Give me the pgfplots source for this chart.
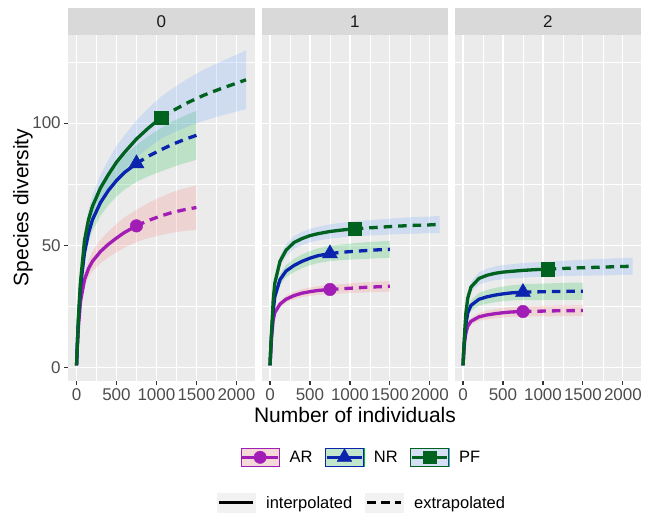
\documentclass[border=0pt]{standalone}
\usepackage{pgfplots}
\pgfplotsset{compat=1.18}
\usepackage{pgfplotstable}
\usepgfplotslibrary{fillbetween}
\usepackage{fontspec}
\setmainfont{Liberation Sans}

\definecolor{bg}{HTML}{EBEBEB}
\definecolor{stripc}{HTML}{D9D9D9}
\definecolor{stript}{HTML}{1A1A1A}
\definecolor{tickc}{HTML}{333333}
\definecolor{ticklab}{HTML}{4D4D4D}
\definecolor{keybg}{HTML}{F2F2F2}
\definecolor{lAR}{HTML}{A21DB6}
\definecolor{lNR}{HTML}{0B24AE}
\definecolor{lPF}{HTML}{00621F}
\definecolor{bAR}{HTML}{F8766D}
\definecolor{bNR}{HTML}{00BA38}
\definecolor{bPF}{HTML}{619CFF}

\newcommand\ticfont{\fontsize{17bp}{20bp}\selectfont}
\newcommand\titfont{\fontsize{21bp}{24bp}\selectfont}
\newcommand\legfont{\fontsize{16.5bp}{19bp}\selectfont}

% q = 0
\pgfplotstableread{
n S d
1 1 0
10 8 0.5
25 17 1.2
50 27 2
100 36 2.8
150 40.5 3.5
200 43.5 4
300 47.5 4.8
400 50.5 5.3
500 53 5.8
600 55.3 6.2
750 58 6.6
900 60.2 7.2
1050 62 7.8
1200 63.5 8.3
1350 64.6 8.7
1500 65.5 9.1
}\tAa
\pgfplotstableread{
n S d
1 1 0
10 9 0.6
25 20 1.4
50 33 2.3
100 47 3.3
150 55 4
200 60.5 4.6
300 67.5 5.4
400 72.5 6
500 76.5 6.5
600 79.8 7
750 83.5 7.5
900 86.5 8.2
1050 89 8.8
1200 91.3 9.3
1350 93.3 9.7
1500 95 10
}\tNa
\pgfplotstableread{
n S d
1 1 0
10 9 0.6
25 21 1.4
50 35 2.3
100 52 3.4
150 60.5 4
200 66 4.6
300 73.5 5.4
400 79 6
500 84 6.6
600 88 7
750 93.5 7.6
900 98 8.1
1060 102.3 8.6
1200 105 9.1
1400 108.5 9.8
1600 111.5 10.5
1800 114 11
2000 116.3 11.6
2120 117.7 12
}\tPa
% q = 1
\pgfplotstableread{
n S d
1 1 0
10 7 0.5
20 12.5 0.8
40 19.5 1
60 22.5 1.1
125 26 1.3
200 28 1.4
300 29.5 1.5
400 30.5 1.6
500 31.1 1.7
600 31.6 1.8
750 32 1.8
900 32.3 1.9
1050 32.6 2
1200 32.9 2.1
1350 33.1 2.1
1500 33.3 2.2
}\tAb
\pgfplotstableread{
n S d
1 1 0
10 8 0.6
20 14 1
40 23 1.5
60 29 1.8
125 36 2.2
200 39.5 2.5
300 41.8 2.7
400 43.5 2.8
500 44.8 2.9
600 45.8 3
750 46.7 3.1
900 47.2 3.2
1050 47.6 3.3
1200 47.9 3.4
1350 48.2 3.4
1500 48.4 3.5
}\tNb
\pgfplotstableread{
n S d
1 1 0
10 8 0.6
20 15 1
40 27.5 1.5
60 34.5 1.8
125 43.5 2.2
200 48 2.4
300 51.2 2.6
400 52.8 2.7
500 54 2.8
600 54.8 2.8
750 55.7 2.9
900 56.3 3
1060 56.8 3
1200 57.1 3.1
1400 57.5 3.2
1600 57.9 3.3
1800 58.2 3.4
2000 58.4 3.4
2120 58.6 3.5
}\tPb
% q = 2
\pgfplotstableread{
n S d
1 1 0
10 6.5 0.4
20 10.5 0.7
35 14 0.9
60 17 1.2
100 19 1.4
200 20.8 1.6
300 21.6 1.8
400 22.1 1.9
500 22.5 2
600 22.8 2
750 23 2.1
900 23.1 2.1
1050 23.2 2.2
1200 23.3 2.2
1350 23.35 2.2
1500 23.4 2.2
}\tAc
\pgfplotstableread{
n S d
1 1 0
10 7 0.5
20 12 0.9
35 17.5 1.3
60 22.5 1.8
100 25.5 2.2
200 28 2.6
300 29 2.8
400 29.7 2.9
500 30.2 3
600 30.6 3.1
750 30.9 3.2
900 31 3.3
1050 31.1 3.4
1200 31.2 3.4
1350 31.25 3.5
1500 31.3 3.5
}\tNc
\pgfplotstableread{
n S d
1 1 0
10 7.5 0.5
20 14 1
35 22 1.4
60 28.5 1.8
100 33 2.2
200 36.5 2.5
300 37.8 2.7
400 38.6 2.8
500 39.1 2.9
600 39.4 2.9
750 39.8 3
900 40.1 3
1060 40.3 3
1200 40.5 3.1
1400 40.8 3.2
1600 41 3.3
1800 41.2 3.4
2000 41.4 3.4
2120 41.5 3.5
}\tPc

\pgfplotsset{
  panel/.style={
    scale only axis, width=186.5bp, height=346bp, anchor=south west,
    xmin=-106, xmax=2226, ymin=-5.4, ymax=136,
    axis background/.style={fill=bg},
    axis line style={draw=none},
    xtick={0,500,1000,1500,2000}, xticklabels={0,500,1000,1500,2000},
    minor xtick={250,750,1250,1750},
    ytick={0,50,100}, yticklabels={0,50,100},
    minor ytick={25,75,125},
    grid=both,
    major grid style={white, line width=1.1bp},
    minor grid style={white, line width=0.55bp},
    tick align=outside, tick pos=left,
    major tick length=3.7bp, minor tick length=0pt,
    major tick style={tickc, line width=1.1bp},
    ticklabel style={font=\ticfont, text=ticklab, inner sep=0pt},
    xticklabel style={yshift=-3.6bp},
    yticklabel style={xshift=-3.4bp},
    clip mode=individual,
  },
  inner panel/.style={panel, yticklabels={}, ytick style={draw=none}},
  keyband/.style n args={4}{legend image code/.code={
     \fill[keybg] (0bp,-9.25bp) rectangle (38.5bp,9.25bp);
     \fill[#1, fill opacity=0.2] (0bp,-9.25bp) rectangle (38.5bp,9.25bp);
     \draw[#2, line width=0.9bp] (0.45bp,-8.8bp) rectangle (38.05bp,8.8bp);
     \draw[#2, line width=3.3bp] (1.5bp,0bp) -- (37bp,0bp);
     \begin{scope}[shift={(19.25bp,0bp)}, mark size=#4, fill=#2, draw=#2]\pgfuseplotmark{#3}\end{scope}
  }},
  keyline/.style={legend image code/.code={
     \fill[keybg] (0bp,-9.5bp) rectangle (38.5bp,9.5bp);
     \draw[black, line width=3.3bp, #1] (2bp,0bp) -- (36.3bp,0bp);
  }},
}

% #1 table, #2 series tag, #3 path prefix
\newcommand\band[3]{%
  \addplot[name path=#3u, draw=none, forget plot] table[x=n, y expr=\thisrow{S}+\thisrow{d}] {#1};
  \addplot[name path=#3l, draw=none, forget plot] table[x=n, y expr=\thisrow{S}-\thisrow{d}] {#1};
  \addplot[fill=b#2, fill opacity=0.2, draw=none, forget plot] fill between[of=#3u and #3l];
}
% #1 table, #2 tag, #3 obs n, #4 end n
\newcommand\curve[4]{%
  \addplot[l#2, line width=3.3bp, forget plot, restrict x to domain=0:#3] table[x=n, y=S] {#1};
  \addplot[l#2, line width=3.3bp, dash pattern=on 8.5bp off 6bp, forget plot, restrict x to domain=#3:#4] table[x=n, y=S] {#1};
}

\begin{document}
\begin{tikzpicture}
% ---------- panel 0 ----------
\begin{axis}[panel, name=p0, at={(68bp,132bp)},
  legend columns=2, legend cell align=left,
  legend style={at={(0.7973,-0.3503)}, anchor=west, draw=none, fill=none,
    inner sep=0pt, outer sep=0pt, font=\legfont,
    nodes={inner sep=0pt, text depth=0pt},
    /tikz/every odd column/.append style={column sep=10.5bp},
    /tikz/every even column/.append style={column sep=12.5bp}}]
\addlegendimage{keyline={solid}}\addlegendentry{interpolated}
\addlegendimage{keyline={dash pattern=on 8.5bp off 5.5bp}}\addlegendentry{extrapolated}
\band{\tAa}{AR}{pa0}
\band{\tNa}{NR}{pn0}
\band{\tPa}{PF}{pp0}
\curve{\tAa}{AR}{750}{1500}
\curve{\tNa}{NR}{750}{1500}
\curve{\tPa}{PF}{1060}{2120}
\addplot[lAR, only marks, mark=*, mark size=6.3bp, forget plot] coordinates {(750,58)};
\addplot[lNR, only marks, mark=triangle*, mark size=8.7bp, forget plot] coordinates {(750,83.5)};
\addplot[lPF, only marks, mark=square*, mark size=6.6bp, forget plot] coordinates {(1060,102.3)};
\end{axis}
% ---------- panel 1 ----------
\begin{axis}[inner panel, name=p1, at={(261.5bp,132bp)},
  legend columns=3, legend cell align=left,
  legend style={at={(-0.1115,-0.2205)}, anchor=west, draw=none, fill=none,
    inner sep=0pt, outer sep=0pt, font=\legfont,
    nodes={inner sep=0pt, text depth=0pt},
    /tikz/every odd column/.append style={column sep=10bp},
    /tikz/every even column/.append style={column sep=12.5bp}}]
\addlegendimage{keyband={bAR}{lAR}{*}{6.2bp}}\addlegendentry{AR}
\addlegendimage{keyband={bNR}{lNR}{triangle*}{8.5bp}}\addlegendentry{NR}
\addlegendimage{keyband={bPF}{lPF}{square*}{6.4bp}}\addlegendentry{PF}
\band{\tAb}{AR}{pa1}
\band{\tNb}{NR}{pn1}
\band{\tPb}{PF}{pp1}
\curve{\tAb}{AR}{750}{1500}
\curve{\tNb}{NR}{750}{1500}
\curve{\tPb}{PF}{1060}{2120}
\addplot[lAR, only marks, mark=*, mark size=6.3bp, forget plot] coordinates {(750,32)};
\addplot[lNR, only marks, mark=triangle*, mark size=8.7bp, forget plot] coordinates {(750,46.7)};
\addplot[lPF, only marks, mark=square*, mark size=6.6bp, forget plot] coordinates {(1060,56.8)};
\end{axis}
% ---------- panel 2 ----------
\begin{axis}[inner panel, name=p2, at={(454.5bp,132bp)}]
\band{\tAc}{AR}{pa2}
\band{\tNc}{NR}{pn2}
\band{\tPc}{PF}{pp2}
\curve{\tAc}{AR}{750}{1500}
\curve{\tNc}{NR}{750}{1500}
\curve{\tPc}{PF}{1060}{2120}
\addplot[lAR, only marks, mark=*, mark size=6.3bp, forget plot] coordinates {(750,23)};
\addplot[lNR, only marks, mark=triangle*, mark size=8.7bp, forget plot] coordinates {(750,30.9)};
\addplot[lPF, only marks, mark=square*, mark size=6.6bp, forget plot] coordinates {(1060,40.3)};
\end{axis}
% strips
\foreach \p/\t in {p0/0,p1/1,p2/2}{
  \fill[stripc] (\p.north west) rectangle ([yshift=27bp]\p.north east);
  \node[font=\ticfont, text=stript, inner sep=0pt] at ([yshift=13.5bp]\p.north) {\t};
}
% axis titles
\node[rotate=90, anchor=base, inner sep=0pt, font=\titfont] at (28.4bp,305.5bp) {Species diversity};
\node[anchor=base, inner sep=0pt, font=\titfont] at (355bp,90.5bp) {Number of individuals};
\pgfresetboundingbox
\path (0bp,0bp) rectangle (651bp,513bp);
\end{tikzpicture}
\end{document}
